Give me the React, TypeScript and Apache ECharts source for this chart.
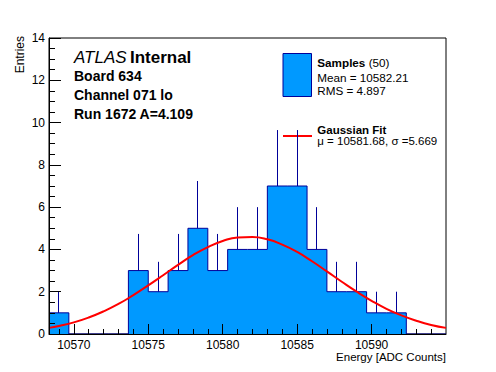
import React, { useEffect, useRef } from "react";
import * as echarts from "echarts";

const FONT = '"Liberation Sans", Arial, Helvetica, sans-serif';

// Histogram binning (20 bins)
const xMin = 10568.333;
const binWidth = 4 / 3;
const counts = [1, 0, 0, 0, 3, 2, 3, 5, 3, 4, 4, 7, 7, 4, 2, 2, 1, 1, 0, 0];

// Gaussian fit curve
const fitX = [
  10568.333, 10569, 10570, 10571, 10572, 10573, 10574, 10575, 10576, 10577,
  10578, 10579, 10580, 10581, 10582, 10583, 10584, 10585, 10586, 10587, 10588,
  10589, 10590, 10591, 10592, 10593, 10594, 10595,
];
const fitY = [
  0.29, 0.38, 0.55, 0.78, 1.07, 1.42, 1.84, 2.3, 2.78, 3.27, 3.73, 4.11, 4.4,
  4.57, 4.59, 4.48, 4.23, 3.88, 3.44, 2.96, 2.47, 2.0, 1.57, 1.19, 0.88, 0.63,
  0.43, 0.29,
];

const xMajorTicks = [10570, 10575, 10580, 10585, 10590];
const xMinorTicks = [
  10569, 10571, 10572, 10573, 10574, 10576, 10577, 10578, 10579, 10581, 10582,
  10583, 10584, 10586, 10587, 10588, 10589, 10591, 10592, 10593, 10594,
];
const yMin = 0;
const yMax = 14;
const yStep = 2;

const FILL = "#0099ff";
const EDGE = "#000099";

export default function App() {
  const ref = useRef<HTMLDivElement>(null);

  useEffect(() => {
    document.body.style.margin = "0";
    if (!ref.current) return;
    const chart = echarts.init(ref.current, null, { renderer: "svg" });
    const xMax = xMin + counts.length * binWidth;

    const stepData: number[][] = counts.map((c, i) => [xMin + i * binWidth, c]);
    stepData.push([xMax, 0]);

    const errData = counts
      .map((c, i) => [xMin + (i + 0.5) * binWidth, c, c + Math.sqrt(c)])
      .filter((d) => d[1] > 0);

    const fitData = fitX.map((x, i) => [x, fitY[i]]);

    const axisCommon = {
      type: "value" as const,
      min: xMin,
      max: xMax,
      splitLine: { show: false },
      z: 5,
    };

    chart.setOption({
      animation: false,
      grid: {
        left: 49,
        right: 50,
        top: 38,
        bottom: 38,
        show: true,
        borderColor: "#000",
        borderWidth: 1,
        backgroundColor: "transparent",
      },
      xAxis: [
        {
          ...axisCommon,
          position: "bottom",
          axisLine: { show: true, lineStyle: { color: "#000", width: 1 } },
          axisTick: {
            show: true,
            inside: true,
            length: 10,
            customValues: xMajorTicks,
            lineStyle: { color: "#000", width: 1 },
          },
          axisLabel: {
            customValues: xMajorTicks,
            formatter: (v: number) => String(v),
            margin: 5,
            lineHeight: 12,
            color: "#000",
            fontSize: 12,
            fontFamily: FONT,
          },
        },
        {
          ...axisCommon,
          position: "bottom",
          axisLine: { show: false },
          axisTick: {
            show: true,
            inside: true,
            length: 5,
            customValues: xMinorTicks,
            lineStyle: { color: "#000", width: 1 },
          },
          axisLabel: { show: false },
        },
      ],
      yAxis: {
        type: "value",
        min: yMin,
        max: yMax,
        interval: yStep,
        z: 5,
        axisLine: { show: true, lineStyle: { color: "#000", width: 1 } },
        axisTick: {
          show: true,
          inside: true,
          length: 12,
          lineStyle: { color: "#000", width: 1 },
        },
        minorTick: {
          show: true,
          splitNumber: 4,
          length: 6,
          lineStyle: { color: "#000", width: 1 },
        },
        axisLabel: {
          margin: 4,
          color: "#000",
          fontSize: 12,
          fontFamily: FONT,
        },
        splitLine: { show: false },
        minorSplitLine: { show: false },
      },
      series: [
        {
          type: "line",
          step: "end",
          data: stepData,
          symbol: "none",
          lineStyle: { color: EDGE, width: 1 },
          areaStyle: { color: FILL, opacity: 1 },
          z: 2,
        },
        {
          type: "custom",
          data: errData,
          encode: { x: 0, y: [1, 2] },
          z: 3,
          renderItem: (_p: any, api: any) => {
            const a = api.coord([api.value(0), api.value(1)]);
            const b = api.coord([api.value(0), api.value(2)]);
            const x = Math.floor(a[0]) + 0.5;
            return {
              type: "line",
              shape: { x1: x, y1: a[1], x2: x, y2: b[1] },
              style: { stroke: EDGE, lineWidth: 1 },
            };
          },
        },
        {
          type: "line",
          data: fitData,
          smooth: true,
          symbol: "none",
          lineStyle: { color: "#ff0000", width: 2 },
          z: 4,
        },
      ],
      graphic: [
        {
          type: "text",
          x: 74,
          y: 57.5,
          style: {
            text: "{a|ATLAS} {b|Internal}",
            verticalAlign: "middle",
            rich: {
              a: { fontStyle: "italic", fontSize: 17, fontFamily: FONT, fill: "#000" },
              b: { fontWeight: "bold", fontSize: 17, fontFamily: FONT, fill: "#000" },
            },
          },
        },
        ...[
          ["Board 634", 76],
          ["Channel 071 lo", 95.4],
          ["Run 1672 A=4.109", 113.7],
        ].map(([t, y]) => ({
          type: "text",
          x: 74,
          y: y as number,
          style: {
            text: t as string,
            font: `bold 14px ${FONT}`,
            fill: "#000",
            verticalAlign: "middle",
          },
        })),
        {
          type: "rect",
          shape: { x: 283, y: 53.5, width: 28.5, height: 43 },
          style: { fill: FILL, stroke: EDGE, lineWidth: 1 },
        },
        {
          type: "line",
          shape: { x1: 283, y1: 136, x2: 312, y2: 136 },
          style: { stroke: "#ff0000", lineWidth: 2 },
        },
        {
          type: "text",
          x: 317.3,
          y: 62,
          style: {
            text: "{a|Samples} {b|(50)}",
            verticalAlign: "middle",
            rich: {
              a: { fontWeight: "bold", fontSize: 11.7, fontFamily: FONT, fill: "#000" },
              b: { fontSize: 11.7, fontFamily: FONT, fill: "#000" },
            },
          },
        },
        {
          type: "text",
          x: 317.3,
          y: 77,
          style: { text: "Mean = 10582.21", font: `11.7px ${FONT}`, fill: "#000", verticalAlign: "middle" },
        },
        {
          type: "text",
          x: 317.3,
          y: 90.4,
          style: { text: "RMS = 4.897", font: `11.7px ${FONT}`, fill: "#000", verticalAlign: "middle" },
        },
        {
          type: "text",
          x: 317.3,
          y: 129.6,
          style: { text: "Gaussian Fit", font: `bold 11.5px ${FONT}`, fill: "#000", verticalAlign: "middle" },
        },
        {
          type: "text",
          x: 317.3,
          y: 141.4,
          style: { text: "μ = 10581.68, σ =5.669", font: `11.5px ${FONT}`, fill: "#000", verticalAlign: "middle" },
        },
        {
          type: "text",
          x: 446,
          y: 357,
          style: {
            text: "Energy [ADC Counts]",
            font: `11.5px ${FONT}`,
            fill: "#000",
            align: "right",
            verticalAlign: "middle",
          },
        },
        {
          type: "text",
          x: 19.5,
          y: 54.7,
          rotation: Math.PI / 2,
          style: {
            text: "Entries",
            font: `12px ${FONT}`,
            fill: "#000",
            align: "center",
            verticalAlign: "middle",
          },
        },
      ],
    });

    return () => chart.dispose();
  }, []);

  return <div ref={ref} style={{ width: 496, height: 372 }} />;
}
